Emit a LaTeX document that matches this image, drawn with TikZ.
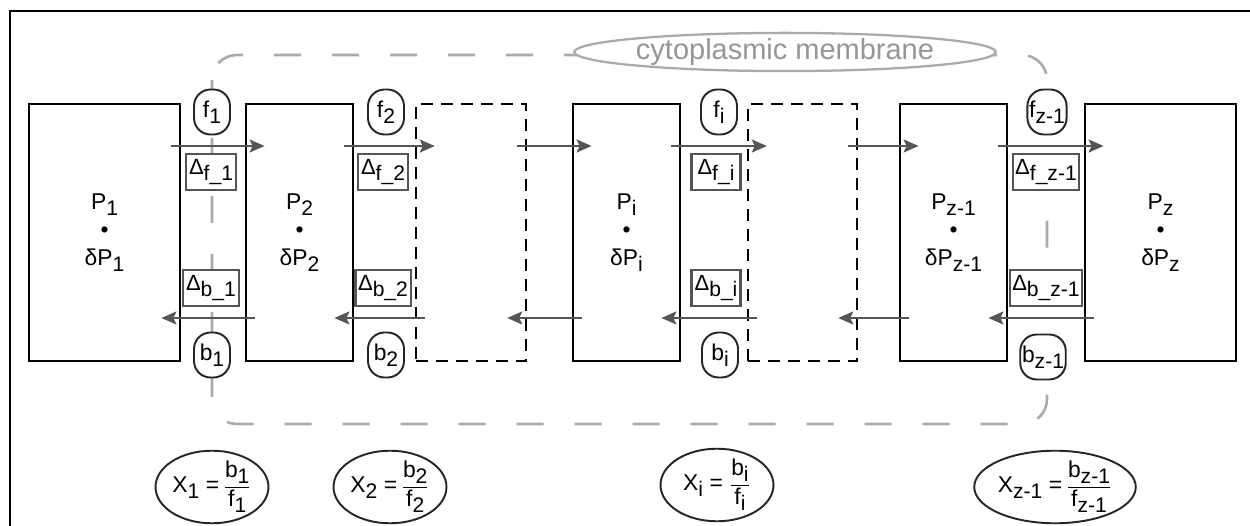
\documentclass[tikz,border=0pt]{standalone}
\usepackage{fontspec}
\setmainfont{Liberation Sans}
\usepackage{tikz}
\usetikzlibrary{arrows.meta, shapes.geometric}
\definecolor{arrgray}{RGB}{85,85,85}
\definecolor{memgray}{RGB}{170,170,170}
\definecolor{memtext}{RGB}{150,150,150}
\newcommand{\dn}[1]{\raisebox{-0.5ex}{\fontsize{12}{12}\selectfont #1}}

\begin{document}
\begin{tikzpicture}[
  x=0.02cm, y=-0.02cm,
  >={Stealth[length=0.3cm, width=0.26cm, inset=0.06cm]},
  poolbox/.style={draw, line width=1.6pt, minimum height=5.14cm, align=center, font=\fontsize{13}{16}\selectfont},
  ghostbox/.style={draw, line width=1.4pt, dash pattern=on 0.24cm off 0.16cm, minimum height=5.14cm},
  rate/.style={draw=black!85, line width=1.1pt, fill=white, rounded corners=0.33cm, minimum width=0.72cm, minimum height=0.9cm, inner sep=1pt},
  delta/.style={draw=arrgray, line width=1.2pt, fill=white, inner sep=1.5pt, minimum width=0.98cm, minimum height=0.72cm, font=\fontsize{12.5}{12.5}\selectfont},
  ratio/.style={ellipse, draw=black!85, line width=1.1pt, inner sep=0pt, minimum width=2.26cm, minimum height=1.26cm},
  flow/.style={->, arrgray, line width=1.1pt, shorten <=-0.2cm, shorten >=-0.4cm},
  every node/.style={font=\fontsize{13}{16}\selectfont}
]
\useasboundingbox (0,0) rectangle (1250,526);
\draw[line width=1.6pt] (10,526) -- (10,11) -- (1250,11);

% ---- membrane ----
\draw[memgray, line width=1.5pt, dash pattern=on 0.54cm off 0.62cm, rounded corners=0.5cm] (212,55) rectangle (1047,424);
\node[ellipse, draw=memgray, line width=1.3pt, fill=white, minimum width=8cm, minimum height=0.76cm, inner sep=0pt, text=memtext, font=\fontsize{16.5}{18}\selectfont] (memlabel) at (785,52) {cytoplasmic membrane};

% ---- pools ----
\node[poolbox, minimum width=3.02cm] (P1) at (104.5,232.5) {P\dn{1}\\\textbullet\\δP\dn{1}};
\node[poolbox, minimum width=2.14cm] (P2) at (299.5,232.5) {P\dn{2}\\\textbullet\\δP\dn{2}};
\node[ghostbox, minimum width=2.2cm] (D1) at (471,232.5) {};
\node[poolbox, minimum width=2.14cm] (Pi) at (626.5,232.5) {P\dn{i}\\\textbullet\\δP\dn{i}};
\node[ghostbox, minimum width=2.18cm] (D2) at (802.5,232.5) {};
\node[poolbox, minimum width=2.14cm] (Py) at (953.5,232.5) {P\dn{z-1}\\\textbullet\\δP\dn{z-1}};
\node[poolbox, minimum width=3.02cm] (Pz) at (1160.5,232.5) {P\dn{z}\\\textbullet\\δP\dn{z}};

% ---- forward fluxes ----
\draw[flow] ([yshift=1.73cm]P1.east) -- ([yshift=1.73cm]P2.west);
\draw[flow] ([yshift=1.73cm]P2.east) -- ([yshift=1.73cm]D1.west);
\draw[flow] ([yshift=1.73cm]D1.east) -- ([yshift=1.73cm]Pi.west);
\draw[flow] ([yshift=1.73cm]Pi.east) -- ([yshift=1.73cm]D2.west);
\draw[flow] ([yshift=1.73cm]D2.east) -- ([yshift=1.73cm]Py.west);
\draw[flow] ([yshift=1.73cm]Py.east) -- ([yshift=1.73cm]Pz.west);

% ---- backward fluxes ----
\draw[flow] ([yshift=-1.71cm]P2.west) -- ([yshift=-1.71cm]P1.east);
\draw[flow] ([yshift=-1.71cm]D1.west) -- ([yshift=-1.71cm]P2.east);
\draw[flow] ([yshift=-1.71cm]Pi.west) -- ([yshift=-1.71cm]D1.east);
\draw[flow] ([yshift=-1.71cm]D2.west) -- ([yshift=-1.71cm]Pi.east);
\draw[flow] ([yshift=-1.71cm]Py.west) -- ([yshift=-1.71cm]D2.east);
\draw[flow] ([yshift=-1.71cm]Pz.west) -- ([yshift=-1.71cm]Py.east);

% ---- rates ----
\node[rate] (f1) at (212,112) {f\dn{1}};
\node[rate] (f2) at (386,112) {f\dn{2}};
\node[rate] (fi) at (719,112) {f\dn{i}};
\node[rate] (fy) at (1047,112) {f\dn{z-1}};
\node[rate] (b1) at (212,355) {b\dn{1}};
\node[rate] (b2) at (386,355) {b\dn{2}};
\node[rate] (bi) at (720,355) {b\dn{i}};
\node[rate] (by) at (1043,357) {b\dn{z-1}};

% ---- deltas ----
\node[delta] (df1) at (211,172) {Δ\dn{f\_1}};
\node[delta] (df2) at (383,172) {Δ\dn{f\_2}};
\node[delta] (dfi) at (716,172) {Δ\dn{f\_i}};
\node[delta] (dfy) at (1046,172) {Δ\dn{f\_z-1}};
\node[delta] (db1) at (211,288) {Δ\dn{b\_1}};
\node[delta] (db2) at (383,288) {Δ\dn{b\_2}};
\node[delta] (dbi) at (716,288) {Δ\dn{b\_i}};
\node[delta] (dby) at (1046,288) {Δ\dn{b\_z-1}};

% ---- flux ratios ----
\node[ratio] (X1) at (212,487) {X\dn{1} =\,$\displaystyle\frac{\mbox{b\dn{1}}}{\mbox{f\dn{1}}}$};
\node[ratio] (X2) at (390,487) {X\dn{2} =\,$\displaystyle\frac{\mbox{b\dn{2}}}{\mbox{f\dn{2}}}$};
\node[ratio] (Xi) at (717,485) {X\dn{i} = $\displaystyle\frac{\mbox{b\dn{i}}}{\mbox{f\dn{i}}}$};
\node[ratio, minimum width=2.54cm, minimum height=1.38cm] (Xy) at (1055,487) {X\dn{z-1} =\,$\displaystyle\frac{\mbox{b\dn{z-1}}}{\mbox{f\dn{z-1}}}$};
\end{tikzpicture}
\end{document}
